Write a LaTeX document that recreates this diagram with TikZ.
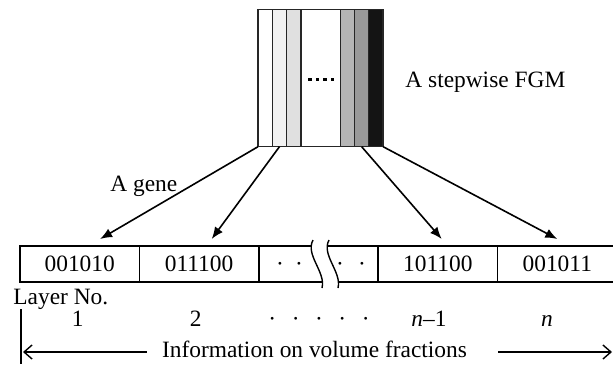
\documentclass[tikz,border=0pt]{standalone}
\usepackage{fontspec}
\setmainfont{Liberation Serif}
\usetikzlibrary{positioning,arrows.meta}

\tikzset{
    layer/.style={draw=black!85, line width=0.65pt, minimum width=7.15pt, minimum height=68.6pt,
        inner sep=0pt, outer sep=0pt, anchor=north west},
    gene/.style={draw, line width=0.8pt, minimum width=59.7pt, minimum height=18pt,
        inner sep=0pt, outer sep=0pt},
    txt/.style={inner sep=0pt},
    pick/.style={-{Latex[length=6pt,width=4.8pt]}, line width=0.8pt},
    span/.style={-{Straight Barb[length=4pt,width=7pt]}, line width=0.7pt}
}

\begin{document}
\begin{tikzpicture}[x=0.5pt, y=-0.5pt, font=\fontsize{11.7}{14}\selectfont]
    \useasboundingbox (0,0) rectangle (613,364);

    % Graded plate, one stripe per layer
    \node[layer] (s1) at (258,9.5) {};
    \node[layer, fill=black!5, right=0pt of s1] (s2) {};
    \node[layer, fill=black!12, right=0pt of s2] (s3) {};
    \node[layer, minimum width=19.65pt, right=0pt of s3] (s4) {};
    \node[layer, fill=black!29, right=0pt of s4] (s5) {};
    \node[layer, fill=black!40, right=0pt of s5] (s6) {};
    \node[layer, fill=black!92, right=0pt of s6] (s7) {};

    \foreach \k in {-1.5, -0.5, 0.5, 1.5} {
        \fill ([xshift=\k*3.8pt+0.3pt, yshift=-0.6pt]s4.center) +(-0.9pt,-0.9pt) rectangle +(0.9pt,0.9pt);
    }

    \node[txt, anchor=base west] (fgm) at (405,87) {A stepwise FGM};

    % Chromosome
    \node[gene] (c1) at (79.7,264) {001010};
    \node[gene, right=0pt of c1] (c2) {011100};
    \node[gene, right=0pt of c2] (c3) {};
    \node[gene, right=0pt of c3] (c4) {101100};
    \node[gene, right=0pt of c4] (c5) {001011};

    \foreach \x in {280, 299, 340, 362} {
        \node[txt, anchor=base] at (\x,271.7) {\textperiodcentered};
    }

    % break in the string
    \fill[white] (313,240) .. controls (305,255) and (326,272) .. (322,288)
        -- (338,288) .. controls (342,272) and (321,255) .. (329,240) -- cycle;
    \draw[line width=0.7pt] (313,240) .. controls (305,255) and (326,272) .. (322,288);
    \draw[line width=0.7pt] (329,240) .. controls (321,255) and (342,272) .. (338,288);

    % Layers mapped to genes
    \draw[pick] (s1.south west) -- ([xshift=10.2pt, yshift=3.5pt]c1.north);
    \draw[pick] (s2.south) -- ([xshift=6.3pt, yshift=3.5pt]c2.north);
    \draw[pick] (s6.south) -- ([xshift=1.9pt, yshift=3.5pt]c4.north);
    \draw[pick] (s7.south east) -- ([yshift=3.5pt]c5.north);

    \node[txt, anchor=base west] (agene) at (110,191) {A gene};

    % Layer numbers
    \node[txt, anchor=base west] (layerno) at (13,304.5) {Layer No.};
    \node[txt, anchor=base] (n1) at (77.7,326) {1};
    \node[txt, anchor=base] (n2) at (195.7,326) {2};
    \foreach \x in {272.3, 295.7, 319, 342.3, 365.7} {
        \node[txt, anchor=base] at (\x,326) {\textperiodcentered};
    }
    \node[txt, anchor=base] (nm) at (429,326) {\textit{n}–1};
    \node[txt, anchor=base] (nn) at (547,326) {\textit{n}};

    % Extent of the coded information
    \coordinate (vtop) at (21,309);
    \coordinate (vbot) at (21,364);
    \draw[line width=0.7pt] (vtop) -- (vbot);

    \node[txt, anchor=base] (info) at (314.5,357) {Information on volume fractions};
    \coordinate (lend) at (23,352);
    \coordinate (rend) at (612,352);
    \draw[span] ([shift={(-7.6pt,2.5pt)}]info.base west) -- (lend);
    \draw[span] ([shift={(15.5pt,2.5pt)}]info.base east) -- (rend);

\end{tikzpicture}
\end{document}
